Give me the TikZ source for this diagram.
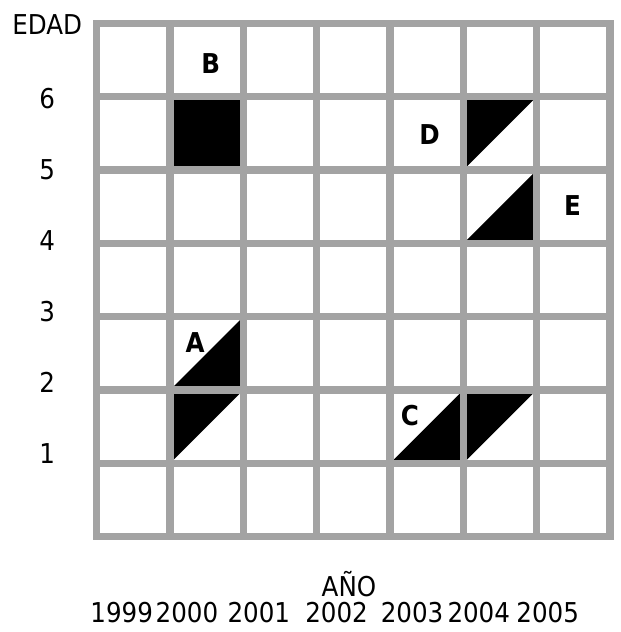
\documentclass[tikz,border=0pt]{standalone}
\usepackage{fontspec}
\setsansfont{DejaVu Sans Condensed}
\usepackage{tikz}
\usetikzlibrary{positioning}

\begin{document}
\begin{tikzpicture}[
    x=1cm, y=1cm,
    grid line/.style={line width=2.8pt, draw=black!36, line cap=rect},
    region/.style={fill=black},
    tag/.style={inner sep=0pt, font=\sffamily\bfseries\fontsize{10.6}{12}\selectfont},
    axis label/.style={inner sep=0pt, font=\sffamily\fontsize{10.6}{12}\selectfont}
]
\useasboundingbox (-1.32,-1.30) rectangle (7.14,7.32);

% shaded cohorts
\fill[region] (1,5) rectangle (2,6);
\fill[region] (1,1) -- (2,2) -- (2,3) -- (1,2) -- cycle;
\fill[region] (4,1) -- (5,1) -- (6,2) -- (5,2) -- cycle;
\fill[region] (5,6) -- (6,6) -- (5,5) -- cycle;
\fill[region] (5,4) -- (6,4) -- (6,5) -- cycle;

% grid
\foreach \i in {0,...,7} {
    \draw[grid line] (\i,0) -- (\i,7);
    \draw[grid line] (0,\i) -- (7,\i);
}

% letters
\node[tag] (tagA) at (1.34,2.65) {A};
\node[tag] (tagB) at (1.555,6.45) {B};
\node[tag] (tagC) at (4.27,1.65) {C};
\node[tag] (tagD) at (4.54,5.48) {D};
\node[tag] (tagE) at (6.49,4.52) {E};

% axes
\node[axis label] (edad) at (-0.675,6.98) {EDAD};
\foreach \k in {1,...,6}
    \node[axis label] (edad\k) at (-0.675,{0.97*\k+0.16}) {\k};
\node[axis label] (anio) at (3.44,-0.65) {AÑO};
\foreach \a/\x in {1999/0.34, 2000/1.23, 2001/2.21, 2002/3.27, 2003/4.30, 2004/5.21, 2005/6.15}
    \node[axis label] (anio\a) at (\x,-1.04) {\a};
\end{tikzpicture}
\end{document}
